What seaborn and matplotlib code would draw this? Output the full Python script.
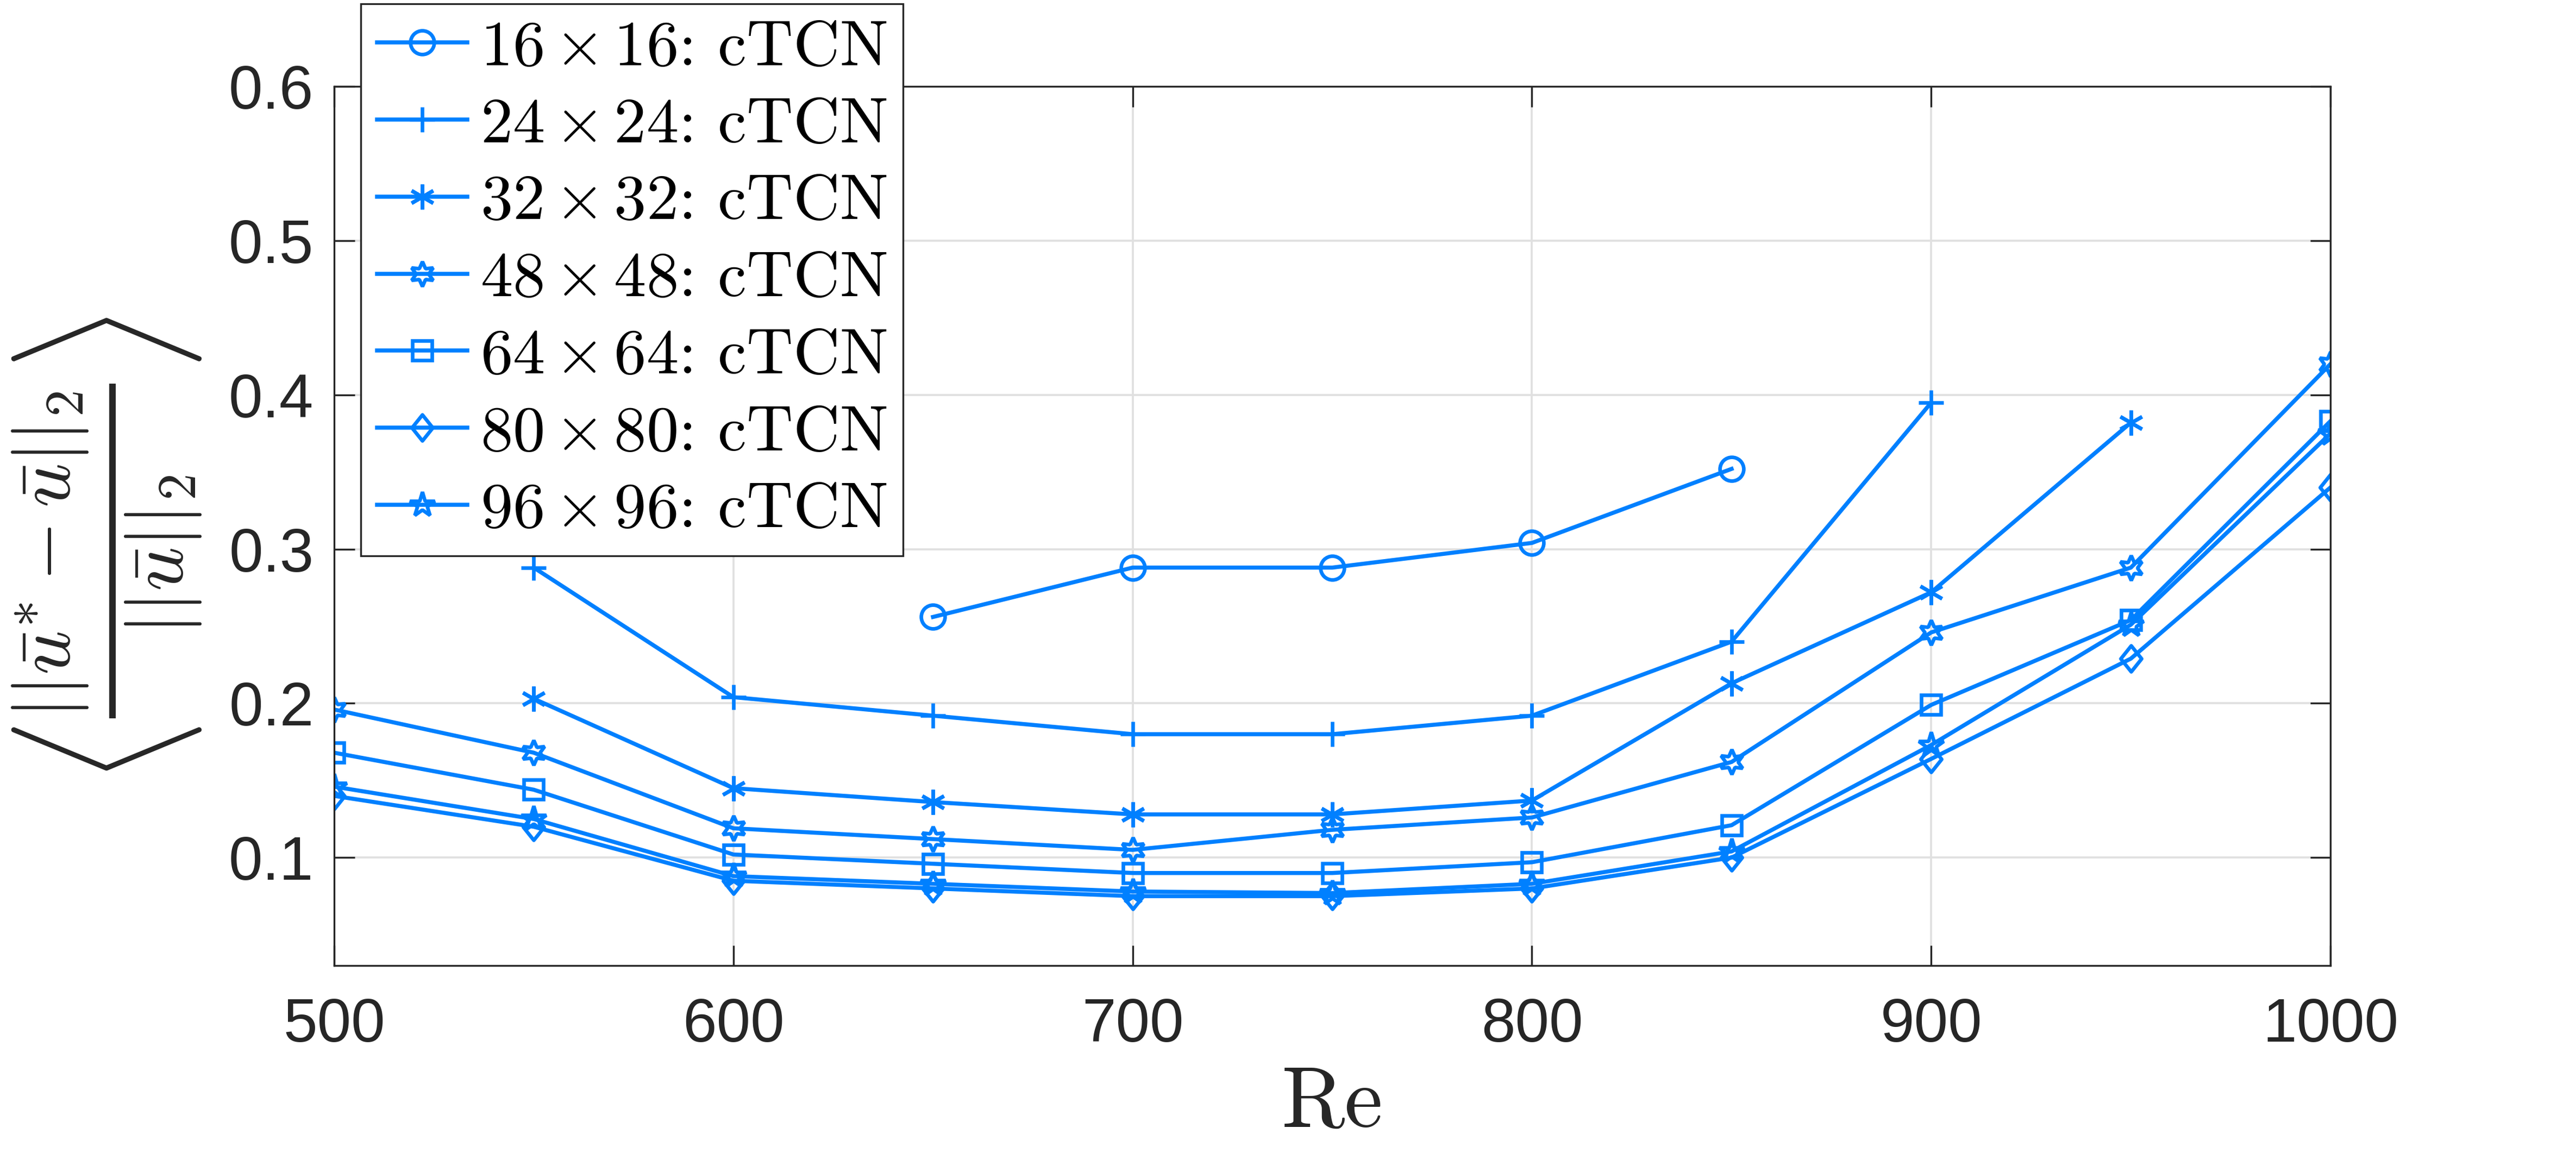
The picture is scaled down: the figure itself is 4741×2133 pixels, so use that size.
import pandas as pd
import seaborn as sns
import matplotlib.pyplot as plt
from matplotlib.path import Path

# Reynolds numbers and the error of each grid (None = no point)
re_vals = [500, 550, 600, 650, 700, 750, 800, 850, 900, 950, 1000]
err_16 = [None, None, None, 0.256, 0.288, 0.288, 0.304, 0.352, None, None, None]
err_24 = [None, 0.288, 0.204, 0.192, 0.180, 0.180, 0.192, 0.240, 0.395, None, None]
err_32 = [None, 0.203, 0.145, 0.136, 0.128, 0.128, 0.137, 0.213, 0.272, 0.382, None]
err_48 = [0.196, 0.168, 0.119, 0.112, 0.105, 0.118, 0.126, 0.162, 0.246, 0.288, 0.420]
err_64 = [0.168, 0.144, 0.102, 0.096, 0.090, 0.090, 0.097, 0.121, 0.199, 0.254, 0.383]
err_80 = [0.140, 0.120, 0.085, 0.080, 0.075, 0.075, 0.080, 0.100, 0.164, 0.229, 0.340]
err_96 = [0.146, 0.125, 0.088, 0.083, 0.078, 0.077, 0.083, 0.104, 0.173, 0.251, 0.375]
grids = ["16", "24", "32", "48", "64", "80", "96"]

x_ticks = [500, 600, 700, 800, 900, 1000]
y_ticks = [0.1, 0.2, 0.3, 0.4, 0.5, 0.6]
y_tick_labels = ["0.1", "0.2", "0.3", "0.4", "0.5", "0.6"]

blue = "#0080ff"
dark = "#262626"

plt.rcParams["font.family"] = ["Liberation Sans", "DejaVu Sans"]
plt.rcParams["mathtext.fontset"] = "cm"

diamond = Path([(0, 1), (0.8, 0), (0, -1), (-0.8, 0), (0, 1)],
               [Path.MOVETO, Path.LINETO, Path.LINETO, Path.LINETO, Path.CLOSEPOLY])
markers = ["o", "+", (6, 2, 0), (6, 1, 0), "s", diamond, "*"]
msizes = [10.5, 11, 11, 11, 8.5, 11.5, 11.5]

fig = plt.figure(figsize=(4741 / 300, 2133 / 300), dpi=300)
ax = fig.add_axes([0.1297, 0.1669, 0.775, 0.7586])

series = [err_16, err_24, err_32, err_48, err_64, err_80, err_96]
for vals, g, m, ms in zip(series, grids, markers, msizes):
    df = pd.DataFrame({"Re": re_vals, "err": vals}).dropna()
    sns.lineplot(data=df, x="Re", y="err", ax=ax, color=blue, lw=1.8,
                 marker=m, markersize=ms, markerfacecolor="none",
                 markeredgecolor=blue, markeredgewidth=1.6,
                 errorbar=None, label=rf"${g}\,{{\times}}\,{g}$: cTCN")

ax.set_xlim(500, 1000)
ax.set_ylim(0.03, 0.6)
ax.set_xticks(x_ticks)
ax.set_yticks(y_ticks)
ax.set_yticklabels(y_tick_labels)
ax.tick_params(direction="in", length=9, width=0.8, top=True, right=True,
               labelsize=27, colors=dark)
ax.tick_params(axis="x", pad=14)
ax.tick_params(axis="y", pad=9)
ax.grid(True, color="#e0e0e0", lw=0.9)
ax.set_axisbelow(True)
for sp in ax.spines.values():
    sp.set_color(dark)
    sp.set_linewidth(0.8)

ax.set_xlabel("Re", fontfamily="cmr10", fontsize=38, color=dark)
ax.xaxis.set_label_coords(0.5, -0.115)
ax.set_ylabel("")

fig.text(0.0415, 0.526,
         r"$\left\langle\frac{||\bar{u}^{*}-\bar{u}||_2}{||\bar{u}||_2}\right\rangle$",
         rotation=90, ha="center", va="center", fontsize=49, color=dark)

leg = ax.legend(loc="upper left", bbox_to_anchor=(0.1401, 0.9967),
                bbox_transform=fig.transFigure,
                prop={"family": "cmr10", "size": 28.5}, frameon=True,
                fancybox=False, framealpha=1, edgecolor=dark,
                borderpad=0.25, labelspacing=0.3, handlelength=1.4,
                handletextpad=0.2, borderaxespad=0)
leg.get_frame().set_linewidth(0.8)

fig.savefig("out.png", dpi=300)
